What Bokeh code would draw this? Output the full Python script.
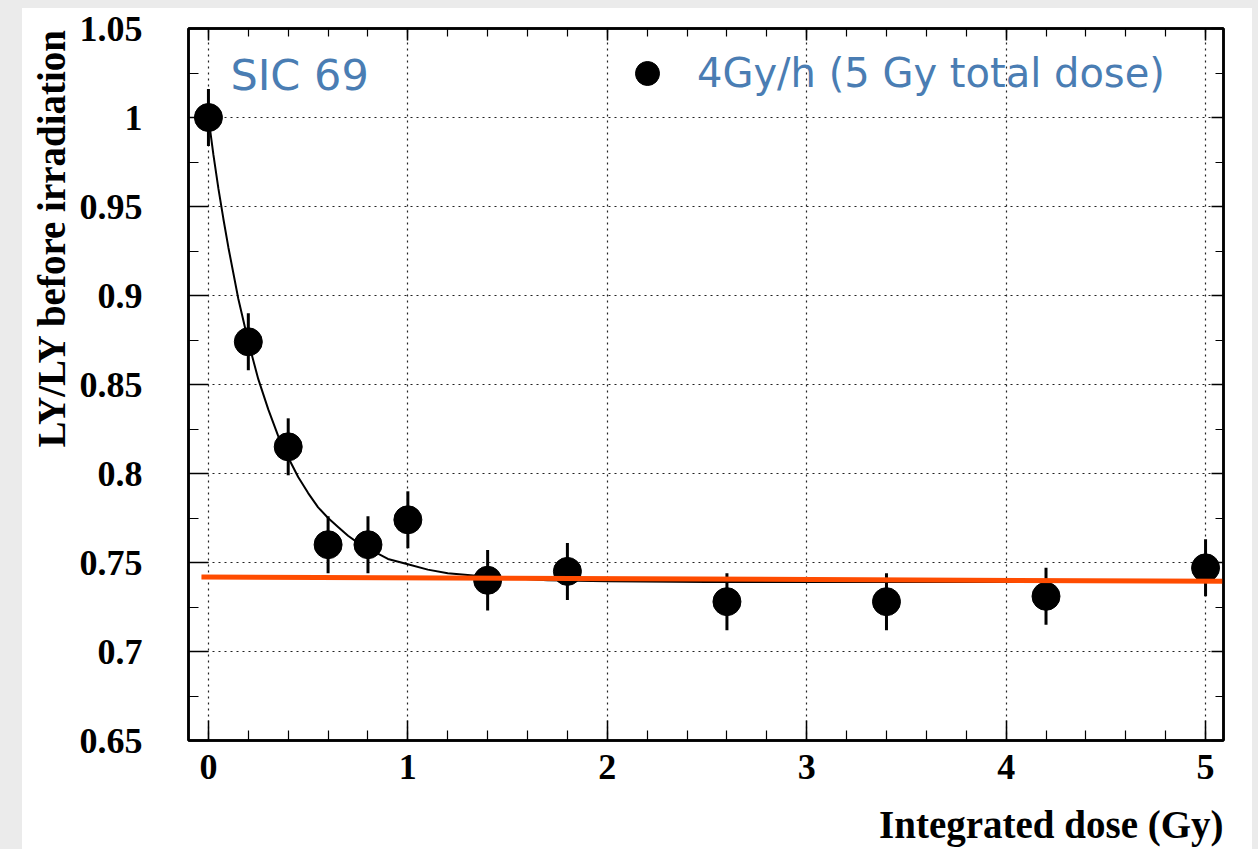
import numpy as np
from bokeh.plotting import figure
from bokeh.models import (Range1d, LinearAxis, SingleIntervalTicker, CustomJSTickFormatter,
                          Label, Legend, LegendItem, Grid, Spacer, ColumnDataSource, Title)
from bokeh.layouts import row, column
from bokeh.embed import file_html
from bokeh.resources import INLINE

# ---------------- data ----------------
dose = [0.0, 0.2, 0.4, 0.6, 0.8, 1.0, 1.4, 1.8, 2.6, 3.4, 4.2, 5.0]
ly_ratio = [1.000, 0.874, 0.815, 0.760, 0.760, 0.774, 0.740, 0.745, 0.728, 0.728, 0.731, 0.747]
ly_err = [0.016, 0.016, 0.016, 0.016, 0.016, 0.016, 0.017, 0.016, 0.016, 0.016, 0.016, 0.016]

# black fit curve
fit_x = [0.0, 0.025, 0.05, 0.075, 0.1, 0.15, 0.2, 0.25, 0.3, 0.35, 0.4, 0.45, 0.5, 0.55,
         0.6, 0.65, 0.7, 0.75, 0.8, 0.9, 1.0, 1.1, 1.2, 1.4, 1.7, 2.0, 2.5, 3.0, 4.0, 5.0]
fit_y = [1.000, 0.979, 0.960, 0.943, 0.927, 0.898, 0.874, 0.853, 0.836, 0.821, 0.809,
         0.798, 0.789, 0.781, 0.775, 0.770, 0.765, 0.761, 0.758, 0.752, 0.749, 0.746,
         0.744, 0.742, 0.740, 0.7394, 0.7391, 0.739, 0.739, 0.739]

# orange constant fit line (end points)
const_x = [-0.035, 5.19]
const_y = [0.7419, 0.7394]

legend_label = "4Gy/h (5 Gy total dose)"
sample_label = "SIC 69"
x_title = "Integrated dose (Gy)"
y_title = "LY/LY before irradiation"

# ---------------- figure ----------------
BLUE = "#4a7db3"
GRAY = "#ebebeb"
SERIF = "Liberation Serif"
SCRIPT = "DejaVu Sans"

p = figure(width=1230, height=841, x_range=Range1d(-0.1, 5.09), y_range=Range1d(0.65, 1.05),
           output_backend="svg", toolbar_location=None, x_axis_type=None, y_axis_type=None,
           min_border_left=166, min_border_right=29, min_border_top=20, min_border_bottom=109,
           background_fill_color="white", border_fill_color="white")
p.outline_line_color = "black"
p.outline_line_width = 2.5

xt = SingleIntervalTicker(interval=1, num_minor_ticks=5)
yt = SingleIntervalTicker(interval=0.05, num_minor_ticks=2)
yfmt = CustomJSTickFormatter(code="return tick.toFixed(2).replace(/0+$/, '').replace(/\\.$/, '');")


def style_axis(ax, major_in, minor_in, show_labels, standoff):
    ax.axis_line_color = "black"
    ax.axis_line_width = 2.5
    ax.major_tick_in = major_in
    ax.major_tick_out = 0
    ax.minor_tick_in = minor_in
    ax.minor_tick_out = 0
    ax.major_tick_line_color = "black"
    ax.major_tick_line_width = 1.5
    ax.minor_tick_line_color = "black"
    ax.minor_tick_line_width = 1.2
    ax.major_label_standoff = standoff
    if show_labels:
        ax.major_label_text_font = SERIF
        ax.major_label_text_font_style = "bold"
        ax.major_label_text_font_size = "36px"
        ax.major_label_text_color = "black"
    else:
        ax.major_label_text_font_size = "0px"
        ax.major_label_text_alpha = 0


xb = LinearAxis(ticker=xt)
style_axis(xb, 20, 10, True, 14)
p.add_layout(xb, "below")
yl = LinearAxis(ticker=yt, formatter=yfmt)
style_axis(yl, 20, 10, True, 46)
p.add_layout(yl, "left")
xa = LinearAxis(ticker=xt)
style_axis(xa, 12, 8, False, 0)
p.add_layout(xa, "above")
yr = LinearAxis(ticker=yt)
style_axis(yr, 12, 8, False, 0)
p.add_layout(yr, "right")

for dim, tk in ((0, xt), (1, yt)):
    p.add_layout(Grid(dimension=dim, ticker=tk, grid_line_color="#222222",
                      grid_line_dash="2 4", grid_line_width=1.2))

# axis titles (ROOT style: at the end of the axes); tiny blank titles act as gaps
p.add_layout(Title(text=" ", text_font_size="1px", standoff=16), "below")
p.add_layout(Title(text=x_title, align="right", text_font=SERIF, text_font_style="bold",
                   text_font_size="39px", text_color="black", standoff=0), "below")
p.add_layout(Title(text=" ", text_font_size="1px", standoff=1), "left")
p.add_layout(Title(text=y_title, align="right", text_font=SERIF, text_font_style="bold",
                   text_font_size="39px", text_color="black", standoff=0), "left")

# fit curve
p.line(fit_x, fit_y, line_color="black", line_width=2)

# error bars + points
src = ColumnDataSource(dict(
    x=dose, y=ly_ratio,
    lo=(np.array(ly_ratio) - np.array(ly_err)).tolist(),
    hi=(np.array(ly_ratio) + np.array(ly_err)).tolist(),
))
p.segment(x0="x", y0="lo", x1="x", y1="hi", source=src, line_color="black", line_width=3)
pts = p.scatter("x", "y", source=src, size=28, marker="circle", fill_color="black", line_color="black")

# orange constant fit
p.line(const_x, const_y, line_color="#ff4c00", line_width=5)

# legend
leg = Legend(items=[LegendItem(label=legend_label, renderers=[pts])],
             location=(429, 637), glyph_width=60, glyph_height=60, label_height=60,
             label_standoff=20, padding=0, margin=0, spacing=0,
             border_line_color=None, background_fill_alpha=0,
             label_text_font=SCRIPT, label_text_font_size="40px", label_text_color=BLUE)
p.add_layout(leg)

# sample label
p.add_layout(Label(x=0.11, y=1.024, text=sample_label, text_font=SCRIPT,
                   text_font_size="43px", text_color=BLUE, text_baseline="alphabetic",
                   text_align="left"))

top_strip = Spacer(width=1258, height=8, styles={"background-color": GRAY})
left_strip = Spacer(width=22, height=841, styles={"background-color": GRAY})
right_strip = Spacer(width=6, height=841, styles={"background-color": GRAY})
layout = column(top_strip, row(left_strip, p, right_strip))

open("out.html", "w").write(file_html(layout, INLINE))
